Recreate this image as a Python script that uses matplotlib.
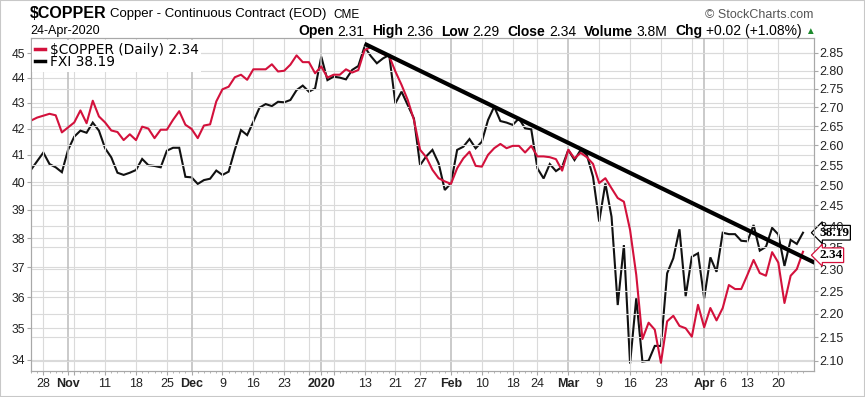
import matplotlib
matplotlib.use('Agg')
import matplotlib.pyplot as plt
import pandas as pd
from matplotlib.lines import Line2D
from matplotlib.patches import Rectangle
from matplotlib.ticker import NullLocator

plt.rcParams['font.family'] = ['Liberation Sans', 'DejaVu Sans']

# -------------------------------------------------------------------
# Data, one value per trading day
# -------------------------------------------------------------------
holidays = ['2019-11-28', '2019-12-25', '2020-01-01', '2020-01-20', '2020-02-17', '2020-04-10']
dates = pd.bdate_range('2019-10-24', '2020-04-24', freq='C', holidays=holidays)

copper = [
    2.665, 2.673, 2.678, 2.683, 2.679, 2.634, 2.647, 2.660, 2.692, 2.658,
    2.718, 2.676, 2.660, 2.639, 2.635, 2.614, 2.629, 2.614, 2.649, 2.644,
    2.619, 2.641, 2.641, 2.667, 2.690, 2.654, 2.643, 2.619, 2.652, 2.655,
    2.716, 2.749, 2.756, 2.782, 2.789, 2.775, 2.804, 2.804, 2.804, 2.818,
    2.798, 2.800, 2.817, 2.843, 2.824, 2.824, 2.793, 2.812, 2.781, 2.789,
    2.789, 2.804, 2.795, 2.802, 2.858, 2.866, 2.857, 2.847, 2.841, 2.798,
    2.761, 2.720, 2.667, 2.589, 2.570, 2.538, 2.517, 2.509, 2.503, 2.542,
    2.567, 2.584, 2.548, 2.546, 2.576, 2.593, 2.604, 2.593, 2.599, 2.599,
    2.582, 2.599, 2.572, 2.572, 2.570, 2.565, 2.536, 2.589, 2.567, 2.581,
    2.570, 2.553, 2.505, 2.517, 2.492, 2.468, 2.459, 2.391, 2.287, 2.146,
    2.181, 2.166, 2.096, 2.184, 2.196, 2.174, 2.169, 2.151, 2.220, 2.171,
    2.213, 2.186, 2.213, 2.264, 2.255, 2.255, 2.287, 2.321, 2.291, 2.285,
    2.339, 2.315, 2.224, 2.285, 2.300, 2.340,
]

fxi = [
    40.45, 40.77, 41.09, 40.66, 40.54, 40.36, 41.19, 41.69, 41.92, 41.84,
    42.23, 41.92, 41.25, 40.91, 40.34, 40.26, 40.34, 40.44, 40.85, 40.62,
    40.59, 40.54, 41.16, 41.27, 41.27, 40.19, 40.17, 39.93, 40.07, 40.12,
    40.42, 40.26, 40.38, 41.19, 41.94, 41.75, 42.26, 42.81, 42.95, 42.87,
    43.04, 43.02, 43.11, 43.50, 43.68, 43.44, 43.57, 44.85, 43.90, 44.04,
    44.00, 43.93, 44.31, 44.47, 45.26, 44.88, 44.58, 44.78, 44.92, 42.98,
    43.44, 42.91, 42.39, 40.62, 40.95, 41.19, 40.69, 39.71, 39.95, 41.19,
    41.31, 41.60, 41.25, 41.50, 42.33, 42.85, 42.29, 42.23, 42.14, 42.39,
    42.01, 41.97, 40.50, 40.13, 40.66, 40.40, 40.56, 41.19, 40.81, 41.19,
    41.00, 40.19, 38.58, 39.95, 38.75, 35.75, 37.76, 33.89, 35.97, 33.95,
    33.98, 34.44, 34.44, 36.80, 37.31, 38.31, 36.04, 37.36, 37.48, 35.97,
    37.34, 36.85, 38.19, 38.14, 38.14, 37.91, 37.89, 38.46, 37.57, 37.70,
    38.36, 38.13, 37.05, 37.94, 37.80, 38.19,
]

# hand-drawn trend line (trading-day index, copper scale)
trend_x = [54, 127]
trend_y = [2.876, 2.314]

tick_dates = ['2019-10-28', '2019-11-01', '2019-11-04', '2019-11-11', '2019-11-18',
              '2019-11-25', '2019-12-02', '2019-12-09', '2019-12-16', '2019-12-23',
              '2019-12-30', '2020-01-02', '2020-01-06', '2020-01-13', '2020-01-21',
              '2020-01-27', '2020-02-03', '2020-02-10', '2020-02-18', '2020-02-24',
              '2020-03-02', '2020-03-09', '2020-03-16', '2020-03-23', '2020-03-30',
              '2020-04-01', '2020-04-06', '2020-04-13', '2020-04-20']
tick_labels = ['28', 'Nov', '', '11', '18', '25', 'Dec', '9', '16', '23', '', '2020', '',
               '13', '21', '27', 'Feb', '10', '18', '24', 'Mar', '9', '16', '23', '',
               'Apr', '6', '13', '20']
month_labels = ['Nov', 'Dec', '2020', 'Feb', 'Mar', 'Apr']

fxi_ticks = [34, 35, 36, 37, 38, 39, 40, 41, 42, 43, 44, 45]
copper_ticks = [2.10, 2.15, 2.20, 2.25, 2.30, 2.35, 2.40, 2.45, 2.50, 2.55,
                2.60, 2.65, 2.70, 2.75, 2.80, 2.85]

# quote line: (label, value)
quote = [('Open', '2.31'), ('High', '2.36'), ('Low', '2.29'), ('Close', '2.34'),
         ('Volume', '3.8M'), ('Chg', '+0.02 (+1.08%)')]

RED = '#d3113c'
GRID = '#dadada'
AXC = '#a8a8a8'

W, H = 865, 397
fig = plt.figure(figsize=(W / 100, H / 100), dpi=100)
ax = fig.add_axes([31 / W, 1 - 371 / H, (813.5 - 31) / W, (371 - 38.5) / H])
ax2 = ax.twinx()
ax.yaxis.tick_right()
ax2.yaxis.tick_left()
ax.set_zorder(2)
ax2.set_zorder(1)
ax.patch.set_visible(False)

x = list(range(len(dates)))
ax2.plot(x, fxi, color='#111111', lw=1.5, solid_joinstyle='miter')
ax.plot(x, copper, color=RED, lw=1.5)
ax.plot(trend_x, trend_y, color='black', lw=3.0, solid_capstyle='butt')

ax.set_xlim(0.5, 126.7)
ax.set_yscale('log')
ax2.set_yscale('log')
ax.set_ylim(2.079, 2.891)
ax2.set_ylim(33.66, 45.60)

ax.set_yticks(copper_ticks, ['%.2f' % v for v in copper_ticks])
ax2.set_yticks(fxi_ticks, [str(v) for v in fxi_ticks])
ax.yaxis.set_minor_locator(NullLocator())
ax2.yaxis.set_minor_locator(NullLocator())

pos = dates.get_indexer(pd.to_datetime(tick_dates))
ax.set_xticks(pos, tick_labels)
ax.set_xticks(x, minor=True)
for lab in ax.get_xticklabels():
    if lab.get_text() in month_labels:
        lab.set_fontweight('bold')
        lab.set_fontsize(9.5)

ax.grid(True, axis='both', color=GRID, lw=0.8)
ax2.grid(True, axis='y', color=GRID, lw=0.8)
for gl, lab in zip(ax.xaxis.get_gridlines(), tick_labels):
    if lab in month_labels:
        gl.set_color('#bcbcbc')
        gl.set_linewidth(1.1)

for a in (ax, ax2):
    for s in a.spines.values():
        s.set_color(AXC)
    a.tick_params(axis='y', length=3, width=0.8, color=AXC,
                  labelcolor='#222222', pad=1)
ax.tick_params(axis='y', labelsize=9)
ax2.tick_params(axis='y', labelsize=8.7)
ax.tick_params(axis='x', which='major', labelsize=9, length=3, color=AXC,
               labelcolor='#222222', pad=2)
ax.tick_params(axis='x', which='minor', length=1.5, color=AXC)

# legend
handles = [Line2D([], [], color=RED, lw=2.5), Line2D([], [], color='black', lw=2.5)]
leg = ax.legend(handles, ['\\$COPPER (Daily) 2.34', 'FXI 38.19'], loc='upper left',
                bbox_to_anchor=(0, 1), borderaxespad=0.1, frameon=True, fancybox=False,
                edgecolor='none', framealpha=1, handlelength=0.7, handletextpad=0.35,
                labelspacing=-0.1, borderpad=0.2,
                prop={'family': 'DejaVu Sans', 'size': 9.9})

# last-value tags
ax2.annotate('38.19', xy=(1.0, fxi[-1]), xycoords=ax2.get_yaxis_transform(),
             xytext=(4, 0), textcoords='offset points', ha='left', va='center',
             fontsize=9.5, fontweight='bold', family='Liberation Serif',
             bbox=dict(boxstyle='larrow,pad=0.1', fc='white', ec='black', lw=0.9),
             annotation_clip=False, zorder=10)
ax.annotate('2.34', xy=(1.0, copper[-1]), xycoords=ax.get_yaxis_transform(),
            xytext=(4, -2.5), textcoords='offset points', ha='left', va='center',
            fontsize=9.5, fontweight='bold', family='Liberation Serif',
            bbox=dict(boxstyle='larrow,pad=0.1', fc='white', ec=RED, lw=0.9),
            annotation_clip=False, zorder=10)

# header
def ftxt(px, py, s, **kw):
    return fig.text(px / W, 1 - py / H, s, va='center', **kw)

ftxt(30, 14, '\\$COPPER', fontsize=11.5, fontweight='bold')
ftxt(110, 14, 'Copper - Continuous Contract (EOD)', fontsize=9.5)
ftxt(333, 14.5, 'CME', fontsize=8.5)
ftxt(30, 31, '24-Apr-2020', fontsize=9)
ftxt(813, 15, '\u00a9 StockCharts.com', fontsize=9, color='#555555', ha='right')

renderer = fig.canvas.get_renderer()
cx = 298
for name, val in quote:
    t = ftxt(cx, 31.5, name, fontsize=10, fontweight='bold')
    cx += t.get_window_extent(renderer).width + 3.5
    t = ftxt(cx, 31.5, val, fontsize=10)
    cx += t.get_window_extent(renderer).width + 8
ftxt(cx - 5, 31.5, '\u25b2', fontsize=7, color='#1c8a2c')

fig.patches.append(Rectangle((0, 0), 1, 1, transform=fig.transFigure, fill=False,
                             ec='#c8c8c8', lw=1.5))

fig.savefig('out.png', dpi=100, facecolor='white')
